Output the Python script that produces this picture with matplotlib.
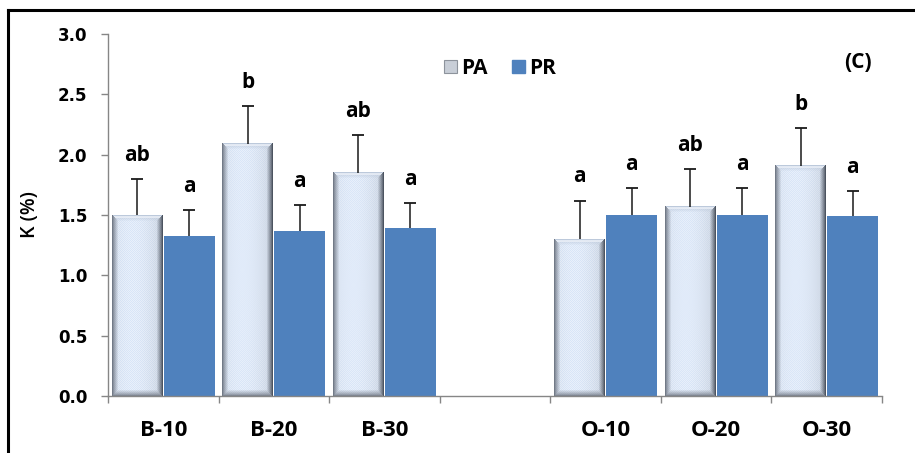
import numpy as np
import matplotlib
matplotlib.use("Agg")
import matplotlib.pyplot as plt
from matplotlib.patches import Patch
from matplotlib.lines import Line2D

# ---- data -------------------------------------------------------------
categories = ['B-10', 'B-20', 'B-30', '', 'O-10', 'O-20', 'O-30']
pa_values = [1.50, 2.09, 1.85, np.nan, 1.30, 1.57, 1.91]
pa_errors = [0.30, 0.31, 0.31, np.nan, 0.32, 0.31, 0.31]
pr_values = [1.33, 1.37, 1.39, np.nan, 1.50, 1.50, 1.49]
pr_errors = [0.21, 0.21, 0.21, np.nan, 0.22, 0.22, 0.21]
pa_letters = ['ab', 'b', 'ab', '', 'a', 'ab', 'b']
pr_letters = ['a', 'a', 'a', '', 'a', 'a', 'a']
y_ticks = [0.0, 0.5, 1.0, 1.5, 2.0, 2.5, 3.0]

FONT = 'Open Sans'
TICK_FONT = 'DejaVu Sans'
PR_COLOR = '#4f81bd'
AXIS_GRAY = '#868686'

W_PX, H_PX, DPI = 915, 453, 100
fig = plt.figure(figsize=(W_PX / DPI, H_PX / DPI), dpi=DPI)
ax = fig.add_axes([108 / W_PX, 1 - 396 / H_PX, 774 / W_PX, 362 / H_PX])

n = len(categories)
ax_w_px = 774
ax_h_px = 362
px_per_x = ax_w_px / n
px_per_y = ax_h_px / 3.0

bar_w = 0.46


def bevel_image(w_px, h_px, bevel=6):
    """Light bar face with a pillow bevel and a fine dotted texture."""
    W = max(int(round(w_px)), 2)
    H = max(int(round(h_px)), 2)
    xx, yy = np.meshgrid(np.arange(W), np.arange(H))
    base = np.array([0.85, 0.90, 0.97])
    img = np.ones((H, W, 3)) * base
    dots = ((xx + yy) % 2 == 0)
    img[dots] = img[dots] * 0.45 + np.array([0.97, 0.98, 1.0]) * 0.55
    hshade = 1 - 0.07 * (np.abs(xx / (W - 1) - 0.4) * 2) ** 2
    img *= hshade[..., None]

    dl = xx.astype(float)
    dr = (W - 1 - xx).astype(float)
    dt = yy.astype(float)
    db = (H - 1 - yy).astype(float)
    d = np.stack([dl, dr, dt, db])
    side = np.argmin(d, axis=0)
    dmin = np.min(d, axis=0)
    side_cols = np.array([
        [0.45, 0.48, 0.53],   # left
        [0.30, 0.33, 0.38],   # right
        [0.74, 0.79, 0.86],   # top
        [0.50, 0.53, 0.58],   # bottom
    ])
    t = np.clip(dmin / bevel, 0, 1)[..., None]
    edge = side_cols[side]
    out = edge * (1 - t ** 0.8) + img * (t ** 0.8)
    top_hi = (side == 2) & (dmin >= 1) & (dmin < 3)
    out[top_hi] = out[top_hi] * 0.4 + np.array([0.97, 0.98, 1.0]) * 0.6
    return np.clip(out, 0, 1)


label_kw = dict(fontfamily=FONT, fontweight='bold', fontsize=15,
                ha='center', va='baseline', color='black')


def upper_error(x, top, err):
    ax.vlines(x, top, top + err, colors='#1a1a1a', linewidth=1.1, zorder=3)
    ax.plot([x], [top + err], marker='_', markersize=8, mew=1.3,
            color='#1a1a1a', zorder=3)


for i in range(n):
    if np.isnan(pa_values[i]):
        continue
    center = i + 0.5
    x0 = center - bar_w - 0.005
    v = pa_values[i]
    img = bevel_image(bar_w * px_per_x, v * px_per_y)
    ax.imshow(img, extent=(x0, x0 + bar_w, 0, v), aspect='auto',
              interpolation='bilinear', zorder=2)
    ax.bar(center + 0.005, pr_values[i], width=bar_w, align='edge',
           color=PR_COLOR, zorder=2)
    pa_x = x0 + bar_w / 2
    pr_x = center + 0.005 + bar_w / 2
    upper_error(pa_x, pa_values[i], pa_errors[i])
    upper_error(pr_x, pr_values[i], pr_errors[i])
    ax.annotate(pa_letters[i], (pa_x, pa_values[i] + pa_errors[i]),
                xytext=(0, 13), textcoords='offset points', **label_kw)
    ax.annotate(pr_letters[i], (pr_x, pr_values[i] + pr_errors[i]),
                xytext=(0, 13), textcoords='offset points', **label_kw)

ax.set_xlim(0, n)
ax.set_ylim(0, 3.0)

for s in ['top', 'right']:
    ax.spines[s].set_visible(False)
for s in ['left', 'bottom']:
    ax.spines[s].set_color(AXIS_GRAY)
    ax.spines[s].set_linewidth(1.0)

ax.set_yticks(y_ticks)
ax.set_yticklabels([f'{t:.1f}' for t in y_ticks], fontfamily=TICK_FONT,
                   fontweight='bold', fontsize=12)
ax.tick_params(axis='y', direction='out', length=5, width=1.0,
               color=AXIS_GRAY, pad=10)

ax.set_xticks(np.arange(n + 1))
ax.set_xticklabels([])
ax.tick_params(axis='x', which='major', direction='out', length=5,
               width=1.0, color=AXIS_GRAY)
ax.set_xticks(np.arange(n) + 0.5, minor=True)
ax.set_xticklabels(categories, minor=True, fontfamily=FONT,
                   fontweight='bold', fontsize=16)
ax.tick_params(axis='x', which='minor', length=0, pad=17)

ax.set_ylabel('K (%)', fontfamily=FONT, fontweight='semibold', fontsize=14)
ax.yaxis.set_label_coords(-(108 - 40) / ax_w_px, 0.5)

handles = [Patch(facecolor='#c8ced7', edgecolor='#8d939c', linewidth=0.8),
           Patch(facecolor=PR_COLOR, edgecolor=PR_COLOR)]
ax.legend(handles, ['PA', 'PR'], loc='center',
          bbox_to_anchor=((500 - 108) / ax_w_px, (396 - 68) / ax_h_px),
          ncol=2, frameon=False, handlelength=0.6, handleheight=0.6,
          handletextpad=0.2, columnspacing=1.2,
          prop=dict(family=FONT, weight='bold', size=15))

ax.text((858 - 108) / ax_w_px, (396 - 62) / ax_h_px, '(C)',
        transform=ax.transAxes, ha='center', va='center',
        fontfamily=FONT, fontweight='bold', fontsize=15)

# outer frame (top and left edges)
fig.add_artist(Line2D([8 / W_PX, 1.0], [1 - 10 / H_PX, 1 - 10 / H_PX],
                      transform=fig.transFigure, color='black', linewidth=2.2))
fig.add_artist(Line2D([8 / W_PX, 8 / W_PX], [0, 1 - 10 / H_PX],
                      transform=fig.transFigure, color='black', linewidth=2.2))

fig.savefig('out.png', dpi=DPI)
